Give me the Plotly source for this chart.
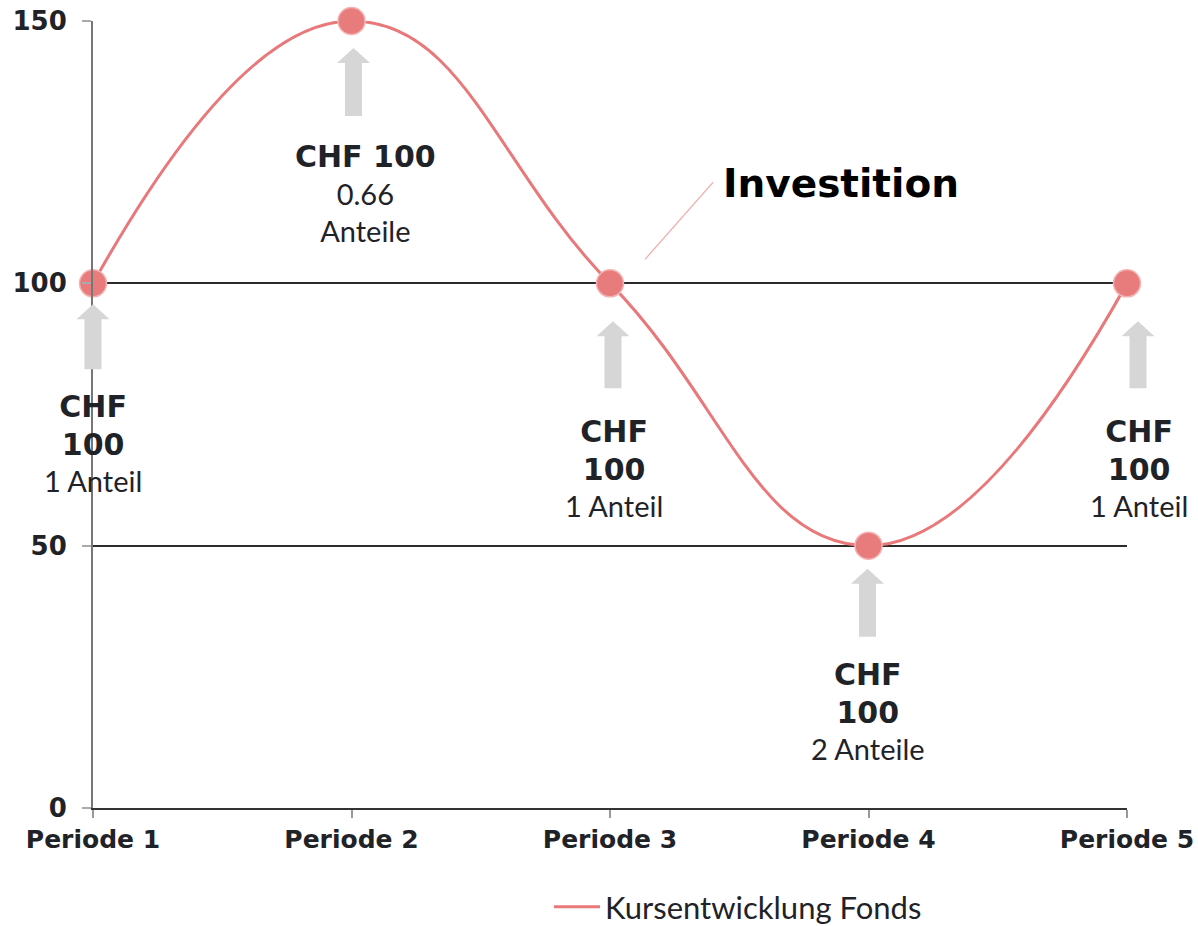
import plotly.graph_objects as go

# ---- data ----
periods = ["Periode 1", "Periode 2", "Periode 3", "Periode 4", "Periode 5"]
kurs = [100, 150, 100, 50, 100]
invest_chf = ["CHF<br>100", "CHF 100", "CHF<br>100", "CHF<br>100", "CHF<br>100"]
anteile = ["1 Anteil", "0.66<br>Anteile", "1 Anteil", "2 Anteile", "1 Anteil"]
y_ticks = [0, 50, 100, 150]
series_name = "Kursentwicklung Fonds"
callout = "Investition"

# ---- styles ----
LINE_C = "#E8787A"
MARK_C = "#E87B7B"
ARROW_C = "#D6D6D6"
TEXT_C = "#1f2328"
BOLD_FONT = "DejaVu Sans"
REG_FONT = "Lato"

# per-point label offsets (pixels): arrow dx, arrow tip gap, arrow length, text dx, text dy
arrow_dx = [0, 2, 3, -1, 11]
arrow_gap = [21, 27, 38, 23, 38]
arrow_len = [65, 68, 67, 68, 67]
text_dx = [0, 14, 4, -1, 12]
text_dy = [-160, -172, -185, -166, -185]

n = len(periods)
fig = go.Figure()

# line (legend entry)
fig.add_trace(go.Scatter(
    x=periods, y=kurs, mode="lines", name=series_name,
    line=dict(color=LINE_C, width=3, shape="spline", smoothing=1.3),
    showlegend=True, hoverinfo="skip", cliponaxis=False,
))
# markers
fig.add_trace(go.Scatter(
    x=periods, y=kurs, mode="markers", showlegend=False,
    marker=dict(color=MARK_C, size=27, line=dict(color="#F4B3B3", width=1.5)),
    cliponaxis=False,
))

shapes = []
annotations = []
HW, SW, HL = 16.5, 8.5, 15
for i, v in enumerate(kurs):
    dx = arrow_dx[i]
    t = -arrow_gap[i]
    b = t - arrow_len[i]
    h = t - HL
    path = (f"M{dx},{t} L{dx - HW},{h} L{dx - SW},{h} L{dx - SW},{b} "
            f"L{dx + SW},{b} L{dx + SW},{h} L{dx + HW},{h} Z")
    shapes.append(dict(
        type="path", xref="paper", yref="y",
        xsizemode="pixel", ysizemode="pixel", xanchor=i / (n - 1), yanchor=v,
        path=path, fillcolor=ARROW_C, line=dict(width=0), layer="above",
    ))
    bold_lines = "<br>".join(
        f"<span style='font-family:{BOLD_FONT};font-weight:bold;font-size:30px'>{ln}</span>"
        for ln in invest_chf[i].split("<br>"))
    txt = bold_lines + "<br>" + anteile[i]
    annotations.append(dict(
        x=i, y=v, xref="x", yref="y", text=txt, showarrow=False,
        xanchor="center", yanchor="middle", align="center",
        xshift=text_dx[i], yshift=text_dy[i],
        font=dict(family=REG_FONT, size=29, color=TEXT_C),
    ))

# callout "Investition" with leader line anchored at Periode 3
shapes.append(dict(
    type="line", xref="paper", yref="y", xsizemode="pixel", ysizemode="pixel",
    xanchor=2 / (n - 1), yanchor=kurs[2], x0=35, y0=24, x1=103, y1=101,
    line=dict(color="#F2A9A5", width=1.2), layer="above",
))
annotations.append(dict(
    x=2, y=kurs[2], xref="x", yref="y", text=callout, showarrow=False,
    xanchor="center", yanchor="middle", xshift=231, yshift=100,
    font=dict(family=BOLD_FONT, size=39, color="#000000", weight="bold"),
))

fig.update_layout(
    width=1198, height=926,
    margin=dict(l=93, r=71, t=21, b=118, autoexpand=False),
    paper_bgcolor="white", plot_bgcolor="white",
    shapes=shapes, annotations=annotations,
    showlegend=True,
    legend=dict(
        orientation="h", x=0.441, xanchor="left", y=-0.126, yanchor="middle",
        font=dict(family=REG_FONT, size=31, color=TEXT_C),
        bgcolor="rgba(0,0,0,0)", itemwidth=46,
    ),
    xaxis=dict(
        type="category", range=[0, n - 1], automargin=False,
        showgrid=False, zeroline=False,
        showline=True, linecolor="#333333", linewidth=2,
        ticks="outside", ticklen=8, tickcolor="#999999", tickwidth=1.5,
        tickfont=dict(family=BOLD_FONT, size=25, color=TEXT_C, weight="bold"),
        ticklabelstandoff=0,
    ),
    yaxis=dict(
        range=[0, 150], tickvals=y_ticks, automargin=False,
        showgrid=True, gridcolor="#2b2b2b", gridwidth=1.8,
        zeroline=False,
        showline=True, linecolor="#777777", linewidth=2,
        ticks="outside", ticklen=9, tickcolor="#aaaaaa", tickwidth=1.5,
        tickfont=dict(family=BOLD_FONT, size=26, color=TEXT_C, weight="bold"),
        ticklabelstandoff=10,
    ),
    yaxis2=dict(
        range=[0, 150], overlaying="y", side="right", automargin=False,
        showgrid=False, zeroline=False, showticklabels=False,
        showline=True, linecolor="#333333", linewidth=2, ticks="",
    ),
)

fig.write_html(
    "out.html",
    config={"displayModeBar": False},
    post_script="document.body.style.margin='0';document.body.style.overflow='hidden';",
)
